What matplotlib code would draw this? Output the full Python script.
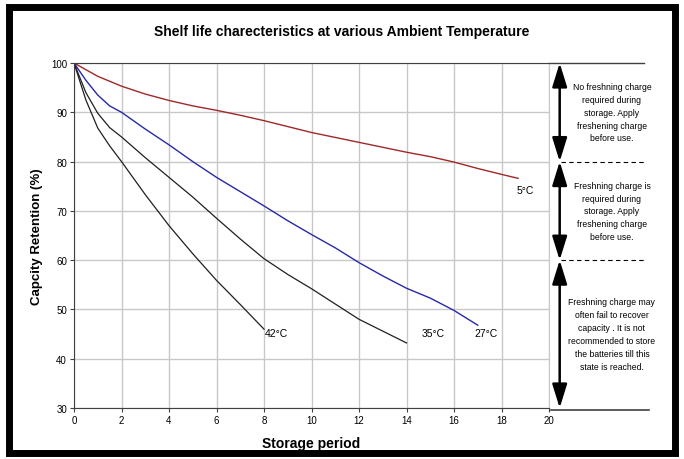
import matplotlib.pyplot as plt
from matplotlib.patches import Rectangle

plt.rcParams['font.family'] = ['Liberation Sans', 'DejaVu Sans']

# storage period vs capacity retention (%)
x_5c = [0, 1, 2, 3, 4, 5, 6, 7, 8, 9, 10, 11, 12, 13, 14, 15, 16, 17, 18, 18.7]
y_5c = [100, 97.3, 95.3, 93.7, 92.4, 91.3, 90.4, 89.4, 88.3, 87.1, 85.9, 84.9,
        83.9, 82.9, 81.9, 81.0, 79.9, 78.6, 77.4, 76.6]

x_27c = [0, 0.5, 1, 1.5, 2, 3, 4, 5, 6, 7, 8, 9, 10, 11, 12, 13, 14, 15, 16, 17]
y_27c = [100, 96.5, 93.5, 91.3, 90.0, 86.6, 83.4, 80.0, 76.8, 73.9, 71.0, 68.0,
         65.2, 62.5, 59.5, 56.8, 54.3, 52.3, 49.8, 46.8]

x_35c = [0, 0.5, 1, 1.5, 2, 3, 4, 5, 6, 7, 8, 9, 10, 11, 12, 13, 14]
y_35c = [100, 94.0, 89.8, 86.9, 85.0, 80.8, 76.8, 72.8, 68.5, 64.3, 60.3, 57.1,
         54.2, 51.1, 48.0, 45.6, 43.2]

x_42c = [0, 0.5, 1, 1.5, 2, 3, 4, 5, 6, 7, 8]
y_42c = [100, 92.5, 86.8, 83.2, 80.0, 73.3, 67.0, 61.3, 55.9, 51.0, 46.0]

zone_edges = [100, 80, 60, 30]
zone_texts = [
    "No freshning charge\nrequired during\nstorage. Apply\nfreshening charge\nbefore use.",
    "Freshning charge is\nrequired during\nstorage. Apply\nfreshening charge\nbefore use.",
    "Freshning charge may\noften fail to recover\ncapacity . It is not\nrecommended to store\nthe batteries till this\nstate is reached.",
]

fig = plt.figure(figsize=(6.84, 4.60), dpi=100)
fig.patches.append(Rectangle((9 / 684, 6 / 460), 666 / 684, 446 / 460,
                             transform=fig.transFigure, fill=False,
                             edgecolor='black', linewidth=5))
ax = fig.add_axes([74 / 684, 1 - 409 / 460, 475 / 684, 345 / 460])

ax.plot(x_5c, y_5c, color='#a02828', lw=1)
ax.plot(x_27c, y_27c, color='#2828a8', lw=1)
ax.plot(x_35c, y_35c, color='#202020', lw=0.9)
ax.plot(x_42c, y_42c, color='#202020', lw=0.9)

lab = dict(fontsize=7.5, va='center')
ax.text(18.65, 74.2, "5°C", ha='left', **lab)
ax.text(16.85, 45.3, "27°C", ha='left', **lab)
ax.text(14.65, 45.3, "35°C", ha='left', **lab)
ax.text(8.05, 45.2, "42°C", ha='left', **lab)

ax.set_xlim(0, 20)
ax.set_ylim(30, 100)
ax.set_xticks(range(0, 21, 2))
ax.set_yticks(range(30, 101, 10))
ax.grid(True, color='#c8c8c8', lw=1)
ax.set_axisbelow(True)
ax.tick_params(labelsize=7, length=3, color='#404040', pad=2)
for s in ['left', 'bottom', 'top']:
    ax.spines[s].set_color('#404040')
ax.spines['right'].set_color('#c8c8c8')

ax.set_xlabel("Storage period", fontsize=10, fontweight='bold', labelpad=8)
ax.set_ylabel("Capcity Retention (%)", fontsize=9.5, fontweight='bold', labelpad=6)
fig.text(342 / 684, 1 - 32 / 460, "Shelf life charecteristics at various Ambient Temperature",
         ha='center', va='center', fontsize=10, fontweight='bold')

# zone annotations on the right
ax.plot([20, 24.0], [100, 100], color='#404040', lw=1, clip_on=False)
ax.plot([20.1, 24.2], [29.6, 29.6], color='#404040', lw=1.2, clip_on=False)
for yv in zone_edges[1:-1]:
    ax.plot([20.5, 24.0], [yv, yv], color='black', lw=0.8, ls=(0, (4, 3)), clip_on=False)
for top, bot, txt in zip(zone_edges[:-1], zone_edges[1:], zone_texts):
    ax.annotate('', xy=(20.45, bot), xytext=(20.45, top), xycoords='data',
                arrowprops=dict(arrowstyle='<|-|>,head_length=1.45,head_width=0.45',
                                color='black', lw=1.8, shrinkA=0, shrinkB=0),
                annotation_clip=False)
    ax.text(22.65, (top + bot) / 2, txt, ha='center', va='center', fontsize=6.2,
            linespacing=1.55, clip_on=False)

fig.savefig('out.png', dpi=100)
